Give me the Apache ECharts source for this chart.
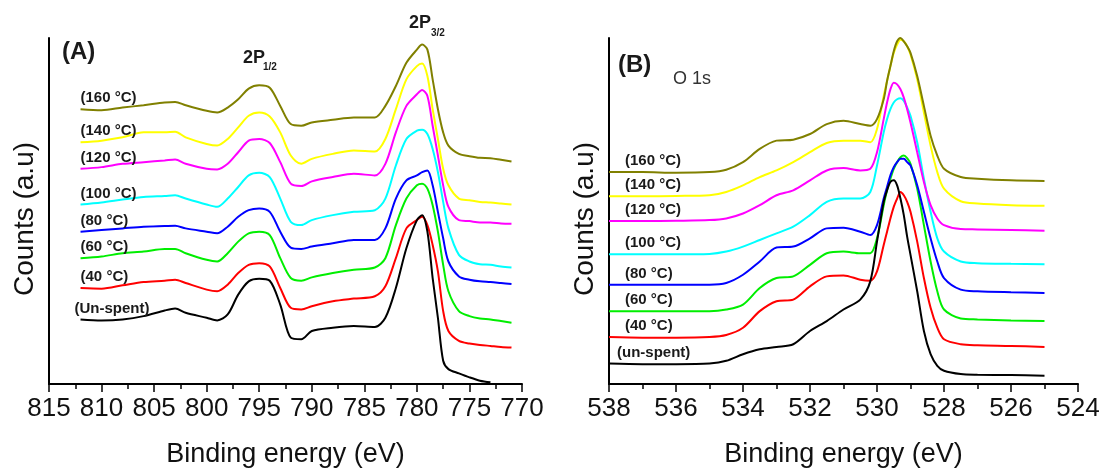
<!doctype html>
<html>
<head>
<meta charset="utf-8">
<title>XPS Cu 2p / O 1s</title>
<style>
  html, body { margin: 0; padding: 0; background: #fff; }
  #main { width: 1099px; height: 468px; }
</style>
</head>
<body>
<div id="main"></div>
<script src="https://cdn.jsdelivr.net/npm/echarts@6/dist/echarts.min.js"></script>
<script>

var FONT = '"Liberation Sans", Arial, sans-serif';

// panel A: Cu 2p, binding energy (eV)
var energyA = [812, 810, 808, 806, 804, 803, 802, 800, 799, 798, 797, 796, 795, 794, 793, 792, 791, 790, 788, 786,
    784, 783, 782, 781, 780, 779.5, 779, 778.5, 778, 777.5, 777, 776, 775, 774, 773, 772, 771];

var cu2pUnspent = [195, 192, 195, 205, 222, 228, 215, 200, 192, 210, 270, 310, 318, 312, 240, 140, 135, 160, 170, 175,
    172, 200, 290, 410, 495, 510, 460, 320, 200, 70, 45, 32, 20, 10, 5, null, null];
var cu2p40 = [290, 288, 298, 308, 312, 315, 305, 285, 280, 300, 335, 360, 365, 355, 290, 230, 225, 235, 250, 258,
    265, 295, 380, 470, 495, 505, 480, 420, 340, 220, 160, 130, 122, 118, 115, 112, 110];
var cu2p60 = [380, 385, 395, 400, 408, 408, 395, 375, 370, 395, 430, 455, 460, 450, 380, 320, 312, 322, 335, 345,
    352, 380, 480, 560, 600, 605, 590, 540, 460, 360, 280, 220, 205, 198, 195, 190, 185];
var cu2p80 = [460, 465, 470, 475, 477, 478, 470, 460, 455, 475, 505, 525, 530, 520, 460, 412, 408, 415, 425, 435,
    435, 470, 560, 615, 630, 640, 645, 600, 520, 440, 370, 325, 315, 310, 308, 305, 302];
var cu2p100 = [542, 548, 557, 565, 568, 570, 560, 542, 535, 560, 595, 630, 638, 625, 560, 490, 480, 495, 510, 520,
    525, 560, 660, 740, 765, 768, 755, 710, 640, 550, 470, 390, 370, 362, 360, 355, 352];
var cu2p120 = [650, 655, 665, 670, 675, 678, 665, 650, 648, 665, 700, 735, 740, 728, 670, 605, 598, 612, 625, 635,
    630, 665, 760, 840, 875, 888, 870, 780, 690, 600, 535, 495, 492, 488, 488, 485, 484];
var cu2p140 = [730, 735, 745, 760, 760, 762, 745, 725, 720, 740, 775, 810, 820, 808, 760, 690, 665, 680, 695, 705,
    702, 740, 830, 920, 960, 968, 930, 830, 740, 650, 600, 560, 555, 550, 548, 545, 542];
var cu2p160 = [830, 827, 835, 842, 850, 852, 842, 825, 820, 835, 860, 892, 902, 895, 840, 785, 780, 790, 798, 805,
    805, 840, 900, 970, 1010, 1025, 1010, 920, 830, 760, 720, 695, 688, 683, 682, 677, 672];

// panel B: O 1s
var energyB = [538, 537, 536, 535, 534.5, 534, 533.5, 533, 532.5, 532, 531.5, 531, 530.5, 530.2, 530, 529.8, 529.7,
    529.6, 529.5, 529.4, 529.3, 529.2, 529.1, 529, 528.8, 528.6, 528.4, 528.2, 528, 527.5, 527, 526, 525];

var o1sUnspent = [62, 60, 60, 62, 70, 90, 105, 112, 120, 160, 190, 225, 255, 310, 430, 550, 585,
    610, 615, 600, 560, 510, 445, 390, 280, 160, 90, 55, 40, 30, 28, 27, 25];
var o1s40 = [142, 140, 140, 142, 148, 170, 220, 250, 255, 295, 325, 328, 315, 312, 340, 420, 460,
    500, 535, 560, 580, 570, 550, 520, 430, 320, 230, 170, 135, 120, 117, 115, 112];
var o1s60 = [220, 220, 220, 220, 225, 240, 290, 320, 325, 360, 395, 400, 395, 395, 440, 540, 585,
    620, 650, 670, 685, 690, 682, 665, 590, 480, 370, 280, 225, 198, 195, 192, 190];
var o1s80 = [300, 300, 300, 300, 305, 330, 370, 412, 415, 440, 470, 472, 460, 450, 480, 560, 595,
    630, 655, 670, 680, 680, 670, 660, 600, 520, 440, 370, 320, 285, 280, 277, 275];
var o1s100 = [392, 392, 392, 393, 400, 415, 435, 455, 475, 510, 550, 560, 560, 580, 660, 760, 800,
    830, 850, 860, 863, 855, 835, 810, 730, 620, 520, 440, 400, 370, 365, 363, 362];
var o1s120 = [492, 492, 493, 495, 500, 515, 540, 570, 585, 615, 645, 652, 645, 650, 700, 800, 850,
    890, 910, 905, 890, 865, 830, 790, 700, 610, 540, 500, 480, 468, 467, 465, 463];
var o1s140 = [567, 567, 568, 570, 580, 600, 625, 645, 670, 700, 728, 735, 735, 730, 770, 870, 915,
    960, 1000, 1025, 1040, 1035, 1020, 995, 920, 820, 720, 640, 590, 552, 545, 540, 538];
var o1s160 = [640, 640, 638, 640, 647, 670, 710, 735, 738, 755, 785, 795, 785, 780, 800, 860, 915,
    960, 1005, 1035, 1045, 1035, 1020, 1000, 930, 840, 750, 690, 650, 625, 620, 615, 613];

var labelsA = ['(Un-spent)', '(40 °C)', '(60 °C)', '(80 °C)', '(100 °C)', '(120 °C)', '(140 °C)', '(160 °C)'];
var labelsB = ['(un-spent)', '(40 °C)', '(60 °C)', '(80 °C)', '(100 °C)', '(120 °C)', '(140 °C)', '(160 °C)'];
var colors = ['#000000', '#ff0000', '#00ee00', '#0000ff', '#00ffff', '#ff00ff', '#ffff00', '#808000'];
// stacking order of the traces (black on top, olive over yellow)
var zOrder = [10, 3, 4, 5, 6, 7, 2, 9];

var spectraA = [cu2pUnspent, cu2p40, cu2p60, cu2p80, cu2p100, cu2p120, cu2p140, cu2p160];
var spectraB = [o1sUnspent, o1s40, o1s60, o1s80, o1s100, o1s120, o1s140, o1s160];

function pairs(xs, ys) {
    var out = [];
    for (var i = 0; i < xs.length; i++) {
        if (ys[i] != null) out.push([xs[i], ys[i]]);
    }
    return out;
}

function xAxisOf(gridIndex, min, max, interval) {
    return {
        gridIndex: gridIndex,
        type: 'value',
        inverse: true,
        min: min,
        max: max,
        interval: interval,
        name: 'Binding energy (eV)',
        nameLocation: 'middle',
        nameGap: 57,
        nameTextStyle: { fontSize: 27, color: '#111', fontFamily: FONT },
        axisLine: { onZero: false, lineStyle: { color: '#000', width: 2 } },
        axisTick: { length: 8, lineStyle: { color: '#000', width: 1.5 } },
        minorTick: { show: true, splitNumber: 2, length: 5, lineStyle: { color: '#000', width: 1.5 } },
        axisLabel: { fontSize: 26, color: '#111', margin: 12, fontFamily: FONT },
        splitLine: { show: false }
    };
}

function yAxisOf(gridIndex) {
    return {
        gridIndex: gridIndex,
        type: 'value',
        min: 0,
        max: 1045,
        name: 'Counts (a.u)',
        nameLocation: 'middle',
        nameGap: 10,
        nameTextStyle: { fontSize: 28, color: '#111', fontFamily: FONT, padding: [0, 16, 0, 0] },
        axisLine: { show: true, lineStyle: { color: '#000', width: 2 } },
        axisTick: { show: false },
        axisLabel: { show: false },
        splitLine: { show: false }
    };
}

var series = [];
spectraA.forEach(function (ys, i) {
    series.push({
        type: 'line', xAxisIndex: 0, yAxisIndex: 0, name: labelsA[i],
        data: pairs(energyA, ys), showSymbol: false, smooth: 0.3,
        z: zOrder[i], lineStyle: { color: colors[i], width: 2 }, silent: true
    });
});
spectraB.forEach(function (ys, i) {
    series.push({
        type: 'line', xAxisIndex: 1, yAxisIndex: 1, name: labelsB[i],
        data: pairs(energyB, ys), showSymbol: false, smooth: 0.3,
        z: zOrder[i], lineStyle: { color: colors[i], width: 2 }, silent: true
    });
});

var chart = echarts.init(document.getElementById('main'), null, { renderer: 'canvas' });

chart.setOption({
    backgroundColor: '#fff',
    animation: false,
    grid: [
        { left: 49, top: 38, width: 473, height: 346, outerBoundsMode: 'none' },
        { left: 609, top: 38, width: 469, height: 346, outerBoundsMode: 'none' }
    ],
    xAxis: [xAxisOf(0, 770, 815, 5), xAxisOf(1, 524, 538, 2)],
    yAxis: [yAxisOf(0), yAxisOf(1)],
    series: series
});

function text(x, y, str, size, weight, color) {
    return {
        type: 'text', z: 100, silent: true,
        style: {
            x: x, y: y, text: str, fill: color || '#1a1a1a',
            font: (weight || 'bold') + ' ' + size + 'px ' + FONT,
            align: 'left', verticalAlign: 'middle'
        }
    };
}

var graphics = [
    text(62, 52, '(A)', 24),
    text(243, 58, '2P', 18),
    text(263, 67, '1/2', 10),
    text(409, 23, '2P', 18),
    text(431, 33, '3/2', 10),
    text(618, 65, '(B)', 24),
    text(673, 79, 'O 1s', 18, 'normal', '#333')
];

// sample labels sit just above the start of each trace
spectraA.forEach(function (ys, i) {
    var p = chart.convertToPixel({ xAxisIndex: 0, yAxisIndex: 0 }, [energyA[0], ys[0]]);
    graphics.push(text(p[0] + (i === 0 ? -6 : 0), p[1] - 11, labelsA[i], 15));
});
spectraB.forEach(function (ys, i) {
    var p = chart.convertToPixel({ xAxisIndex: 1, yAxisIndex: 1 }, [energyB[0], ys[0]]);
    graphics.push(text(p[0] + (i === 0 ? 8 : 16), p[1] - 11, labelsB[i], 15));
});

chart.setOption({ graphic: graphics });

</script>
</body>
</html>
